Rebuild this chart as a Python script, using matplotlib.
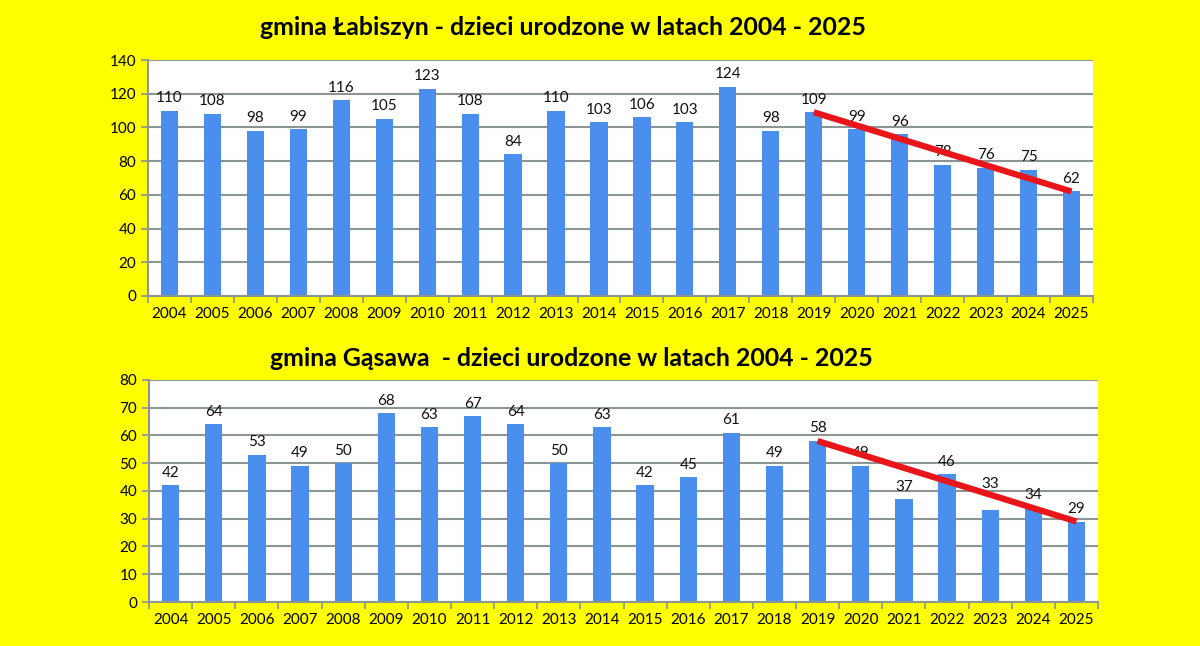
import matplotlib.pyplot as plt
import numpy as np

plt.rcParams['font.family'] = ['Lato', 'DejaVu Sans']

# Data
years = [str(y) for y in range(2004, 2026)]
labiszyn = [110, 108, 98, 99, 116, 105, 123, 108, 84, 110, 103,
            106, 103, 124, 98, 109, 99, 96, 78, 76, 75, 62]
gasawa = [42, 64, 53, 49, 50, 68, 63, 67, 64, 50, 63,
          42, 45, 61, 49, 58, 49, 37, 46, 33, 34, 29]
trend_from, trend_to = "2019", "2025"

title_top = "gmina Łabiszyn - dzieci urodzone w latach 2004 - 2025"
title_bottom = "gmina Gąsawa  - dzieci urodzone w latach 2004 - 2025"

yellow = '#FFFF00'
bar_color = '#4A8FEE'
grid_color = '#8C9494'
red = '#E8161B'

fig = plt.figure(figsize=(12, 6.46), dpi=100, facecolor=yellow)
ax1 = fig.add_axes([0.1233, 0.5418, 0.7875, 0.3653])
ax2 = fig.add_axes([0.1242, 0.0681, 0.7908, 0.3437])


def draw_panel(ax, values, ymax, ystep, lifted=()):
    x = np.arange(len(years))
    ax.set_facecolor('white')
    ax.bar(x, values, width=0.4, color=bar_color, zorder=2)
    for xi, v in zip(x, values):
        # a few labels were moved up in the original to clear the red line
        off = 14 if years[xi] in lifted else 4
        ax.annotate(str(v), (xi, v), xytext=(0, off), textcoords='offset points',
                    ha='center', va='bottom', fontsize=11, color='#111111', zorder=3)
    # red line from top of the 2019 bar to top of the 2025 bar
    i0, i1 = years.index(trend_from), years.index(trend_to)
    ax.plot([x[i0], x[i1]], [values[i0], values[i1]], color=red, lw=4.5,
            solid_capstyle='butt', zorder=4)
    ax.set_xlim(-0.5, len(years) - 0.5)
    ax.set_ylim(0, ymax)
    ax.set_yticks(np.arange(0, ymax + 1, ystep))
    ax.set_xticks(x)
    ax.set_xticklabels(years)
    ax.set_xticks(np.arange(-0.5, len(years)), minor=True)
    ax.tick_params(axis='x', which='major', length=0, pad=8, labelsize=11)
    ax.tick_params(axis='x', which='minor', length=5, color=grid_color, width=1.2)
    ax.tick_params(axis='y', length=5, color=grid_color, width=1.2, labelsize=11)
    ax.grid(axis='y', color=grid_color, lw=1.5, zorder=1)
    for s in ['top', 'right']:
        ax.spines[s].set_visible(False)
    for s in ['left', 'bottom']:
        ax.spines[s].set_color(grid_color)
        ax.spines[s].set_linewidth(1.5)


draw_panel(ax1, labiszyn, 140, 20)
draw_panel(ax2, gasawa, 80, 10, lifted=('2023',))

fig.text(0.469, 0.9567, title_top, ha='center', va='center', fontsize=17.9, fontweight='bold')
fig.text(0.476, 0.4458, title_bottom, ha='center', va='center', fontsize=17.9, fontweight='bold')

fig.savefig('out.png', dpi=100, facecolor=yellow)
